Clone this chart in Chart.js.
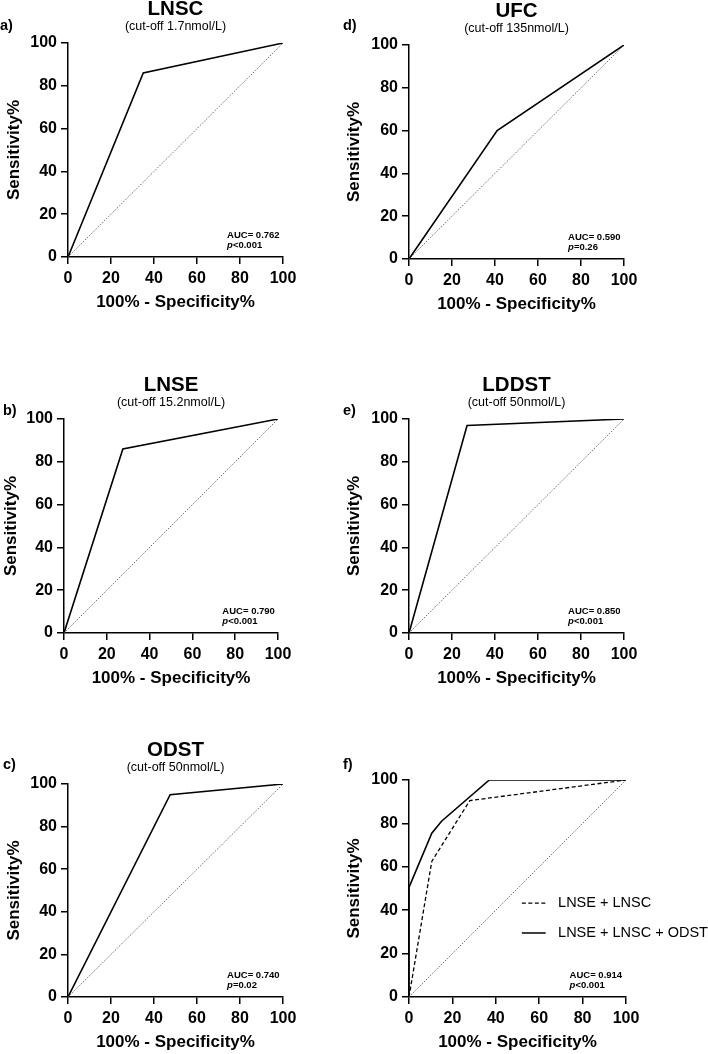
<!DOCTYPE html>
<html>
<head>
<meta charset="utf-8">
<script src="https://cdn.jsdelivr.net/npm/chart.js@4.4.1/dist/chart.umd.min.js"></script>
<style>
  html, body { margin: 0; padding: 0; background: #fff; }
  body { position: relative; width: 708px; height: 1054px; overflow: hidden; }
  canvas { position: absolute; }
</style>
</head>
<body>
<canvas id="pa"></canvas>
<canvas id="pb"></canvas>
<canvas id="pc"></canvas>
<canvas id="pd"></canvas>
<canvas id="pe"></canvas>
<canvas id="pf"></canvas>
<script>
// axis ticks (both axes, percent)
const tickVals = [0, 20, 40, 60, 80, 100];
// line of no discrimination
const chanceLine = [0, 100];

// ROC points: x = 100% - specificity, y = sensitivity
const lnscX = [0, 35, 100];
const lnscY = [0, 86, 100];
const lnseX = [0, 27.5, 100];
const lnseY = [0, 86, 100];
const odstX = [0, 47.5, 100];
const odstY = [0, 95, 100];
const ufcX = [0, 41, 100];
const ufcY = [0, 60, 100];
const lddstX = [0, 27, 100];
const lddstY = [0, 97, 100];
const comboX = [0, 10.5, 28, 100];
const comboY = [0, 62.5, 90.5, 100];
const combo3X = [0, 0, 10.5, 15, 37, 100];
const combo3Y = [0, 50.5, 75.5, 81, 100, 100];

const aucs = ['0.762', '0.790', '0.740', '0.590', '0.850', '0.914'];
const pvals = ['<0.001', '<0.001', '=0.02', '=0.26', '<0.001', '<0.001'];

const FONT = '"Liberation Sans", Arial, Helvetica, sans-serif';
Chart.defaults.font.family = FONT;
Chart.defaults.color = '#000';

const toXY = (xs, ys) => xs.map((x, i) => ({ x, y: ys[i] }));

// layout of each panel on the page
const panels = [
  { id: 'pa', left: 0, top: 0, w: 345, h: 345, plot: { l: 68, r: 283, t: 43, b: 257 }, yTitle: 14.5,
    label: 'a)', lab: [0, 30], title: 'LNSC', sub: '(cut-off 1.7nmol/L)', k: 0,
    curves: [{ x: lnscX, y: lnscY }] },
  { id: 'pb', left: 0, top: 335, w: 345, h: 365, plot: { l: 64, r: 278, t: 419, b: 633 }, yTitle: 11,
    label: 'b)', lab: [3, 415], title: 'LNSE', sub: '(cut-off 15.2nmol/L)', k: 1,
    curves: [{ x: lnseX, y: lnseY }] },
  { id: 'pc', left: 0, top: 700, w: 345, h: 354, plot: { l: 68, r: 283, t: 784, b: 997 }, yTitle: 14.5,
    label: 'c)', lab: [3, 769], title: 'ODST', sub: '(cut-off 50nmol/L)', k: 2,
    curves: [{ x: odstX, y: odstY }] },
  { id: 'pd', left: 342, top: 0, w: 366, h: 345, plot: { l: 409, r: 624, t: 45, b: 259 }, yTitle: 12,
    label: 'd)', lab: [343, 30], title: 'UFC', sub: '(cut-off 135nmol/L)', k: 3,
    curves: [{ x: ufcX, y: ufcY }] },
  { id: 'pe', left: 342, top: 335, w: 366, h: 365, plot: { l: 409, r: 624, t: 419, b: 633 }, yTitle: 12,
    label: 'e)', lab: [343, 415], title: 'LDDST', sub: '(cut-off 50nmol/L)', k: 4,
    curves: [{ x: lddstX, y: lddstY }] },
  { id: 'pf', left: 342, top: 700, w: 366, h: 354, plot: { l: 409, r: 626, t: 780, b: 997 }, yTitle: 12,
    label: 'f)', lab: [343, 769], title: '', sub: '', k: 5,
    curves: [{ x: comboX, y: comboY, dash: [4, 2.5], label: 'LNSE + LNSC' },
             { x: combo3X, y: combo3Y, label: 'LNSE + LNSC + ODST' }],
    legend: true }
];

function notes(p) {
  return {
    id: 'notes',
    afterDraw(chart) {
      const ctx = chart.ctx, xs = chart.scales.x, ys = chart.scales.y;
      ctx.save();
      ctx.fillStyle = '#000';
      ctx.textAlign = 'left';
      ctx.textBaseline = 'alphabetic';
      ctx.font = 'bold 14.5px ' + FONT;
      ctx.fillText(p.label, p.lab[0] - p.left, p.lab[1] - p.top);

      const ax = xs.getPixelForValue(74);
      ctx.textBaseline = 'middle';
      ctx.font = 'bold 9.5px ' + FONT;
      ctx.fillText('AUC= ' + aucs[p.k], ax, ys.getPixelForValue(10));
      const y2 = ys.getPixelForValue(5.3);
      ctx.font = 'italic bold 9.5px ' + FONT;
      ctx.fillText('p', ax, y2);
      const pw = ctx.measureText('p').width;
      ctx.font = 'bold 9.5px ' + FONT;
      ctx.fillText(pvals[p.k], ax + pw, y2);

      if (p.legend) {
        const rows = [43.3, 29.5];
        ctx.font = '14.5px ' + FONT;
        p.curves.forEach((c, i) => {
          const y = ys.getPixelForValue(rows[i]);
          ctx.beginPath();
          ctx.setLineDash(c.dash || []);
          ctx.lineWidth = c.dash ? 1.2 : 1.5;
          ctx.strokeStyle = '#000';
          ctx.moveTo(xs.getPixelForValue(52), y);
          ctx.lineTo(xs.getPixelForValue(63), y);
          ctx.stroke();
          ctx.fillText(c.label, xs.getPixelForValue(68.7), y);
        });
      }
      ctx.restore();
    }
  };
}

function makePanel(p) {
  const cv = document.getElementById(p.id);
  cv.width = p.w; cv.height = p.h;
  cv.style.left = p.left + 'px';
  cv.style.top = p.top + 'px';
  const pa = p.plot;
  const titleH = p.title ? 43 : 0;
  const yW = pa.l - p.left;

  const datasets = [{
    data: toXY(chanceLine, chanceLine),
    borderColor: '#444', borderWidth: 0.8, borderDash: [1.5, 1.5]
  }];
  p.curves.forEach(c => datasets.push({
    label: c.label || p.title,
    data: toXY(c.x, c.y),
    borderColor: '#000',
    borderWidth: c.dash ? 1.3 : 1.6,
    borderDash: c.dash || []
  }));

  const axisCommon = {
    type: 'linear', min: 0, max: 100,
    afterBuildTicks: s => { s.ticks = tickVals.map(v => ({ value: v })); },
    grid: { drawOnChartArea: false, drawTicks: true, tickLength: 7, color: '#000', lineWidth: 1.5 },
    border: { display: true, color: '#000', width: 1.5 }
  };

  new Chart(cv, {
    type: 'line',
    data: { datasets },
    options: {
      responsive: false,
      animation: false,
      devicePixelRatio: 1,
      layout: { padding: {
        left: 0,
        top: pa.t - p.top - titleH,
        right: p.left + p.w - pa.r,
        bottom: p.top + p.h - pa.b - 60
      } },
      elements: { point: { radius: 0 }, line: { tension: 0 } },
      plugins: {
        legend: { display: false },
        tooltip: { enabled: false },
        title: { display: !!p.title, text: p.title, fullSize: false, color: '#000',
                 font: { size: 20.5, weight: 'bold', lineHeight: 0.87 }, padding: { top: 0, bottom: 1.4 } },
        subtitle: { display: !!p.sub, text: p.sub, fullSize: false, color: '#000',
                    font: { size: 12.5, weight: 'normal', lineHeight: 1.2 }, padding: { top: 0, bottom: 8.8 } }
      },
      scales: {
        x: Object.assign({}, axisCommon, {
          afterFit: s => { s.height = 60; },
          ticks: { padding: 5, autoSkip: false, maxRotation: 0, color: '#000', font: { size: 16, weight: 'bold' } },
          title: { display: true, text: '100% - Specificity%', color: '#000',
                   font: { size: 17, weight: 'bold', lineHeight: 1.2 }, padding: { top: 0, bottom: 4 } }
        }),
        y: Object.assign({}, axisCommon, {
          afterFit: s => { s.width = yW; },
          ticks: { padding: 4, autoSkip: false, color: '#000', font: { size: 16, weight: 'bold' } },
          title: { display: true, text: 'Sensitivity%', color: '#000',
                   font: { size: 17, weight: 'bold', lineHeight: 1.2 }, padding: { top: p.yTitle - 10.2, bottom: 0 } }
        })
      }
    },
    plugins: [notes(p)]
  });
}

panels.forEach(makePanel);
</script>
</body>
</html>
